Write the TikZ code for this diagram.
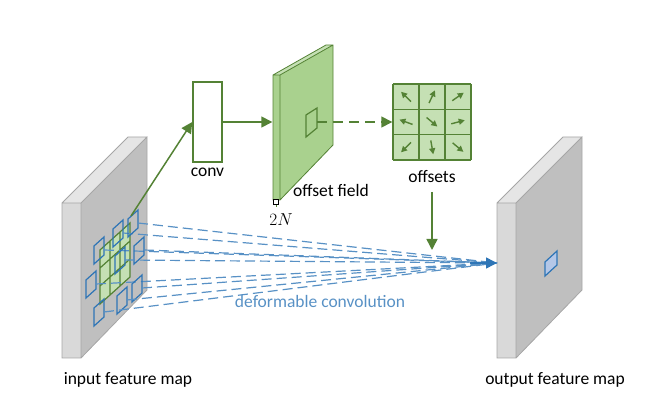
\documentclass[tikz,border=0pt]{standalone}
\usepackage{fontspec}
\setmainfont{Carlito}
\usetikzlibrary{arrows.meta,calc}
\definecolor{dgreen}{HTML}{548235}
\definecolor{lgreen}{HTML}{C5E0B4}
\definecolor{mgreen}{HTML}{A9D18E}
\definecolor{dblue}{HTML}{2E75B6}
\definecolor{lblue}{HTML}{B4C7E7}
\tikzset{
  gline/.style={draw=dgreen, line width=1.4pt},
  bline/.style={draw=dblue, line width=1.2pt},
  lbl/.style={font=\fontsize{17.5}{20}\selectfont, inner sep=1pt},
}
\newcommand{\fmap}[1]{% left x of the slab
  \fill[gray!20] (#1,203) -- (#1+19,203) -- (#1+85,137) -- (#1+66,137) -- cycle;
  \fill[gray!30] (#1,203) rectangle (#1+19,358);
  \fill[gray!50] (#1+19,203) -- (#1+85,137) -- (#1+85,290) -- (#1+19,358) -- cycle;
  \draw[gray!70, line width=0.8pt] (#1,203) -- (#1+19,203) -- (#1+85,137) -- (#1+85,290) -- (#1+19,358) -- (#1,358) -- cycle
    (#1+19,203) -- (#1+19,358) (#1,203) -- (#1+66,137) -- (#1+85,137);
}
\newcommand{\bsq}[2]{\draw[bline] (#1-5,#2-3) -- (#1+5,#2-12) -- (#1+5,#2+6) -- (#1-5,#2+15) -- cycle;}
\begin{document}
\begin{tikzpicture}[x=1pt, y=-1pt, >={Triangle[length=11pt,width=11pt]}]
\useasboundingbox (0,0) rectangle (670,417);
% feature maps
\fmap{62}
\fmap{497}
\fill[lblue] (545,262) -- (557,251) -- (557,265) -- (545,276) -- cycle;
\draw[bline] (545,262) -- (557,251) -- (557,265) -- (545,276) -- cycle;
% sampling grid on the input
\fill[lgreen] (100,250) -- (130,223) -- (130,277) -- (100,304) -- cycle;
\draw[gline, line width=1.2pt] (100,250) -- (130,223) -- (130,277) -- (100,304) -- cycle
  (110,241) -- (110,295) (120,232) -- (120,286)
  (100,268) -- (130,241) (100,286) -- (130,259);
\coordinate (tip) at (497,263);
\foreach \x/\y in {118/232, 133/222, 99/249, 139/249, 120/259, 91/283, 137/287, 122/299, 99/311}{
  \bsq{\x}{\y}
  \draw[draw=dblue!80!white, line width=1.2pt, dash pattern=on 10pt off 5pt] (\x+5,\y+1) -- (tip);
}
\draw[->, draw=dblue, fill=dblue, line width=1.5pt] (470,263) -- (tip);
% conv
\node[draw=dgreen, line width=1.5pt, minimum width=29pt, minimum height=80pt, inner sep=0pt] (conv) at (207.5,122) {};
\node[lbl, below=4pt] (convl) at (conv.south) {conv};
\coordinate (src) at (131,216);
\draw[->, dgreen, line width=1.5pt] (src) -- (conv.west);
% offset field
\fill[mgreen] (273,75) -- (280,75) -- (280,200) -- (273,200) -- cycle;
\fill[lgreen] (273,75) -- (280,75) -- (333,45) -- (326,45) -- cycle;
\fill[mgreen] (280,75) -- (333,45) -- (333,145) -- (280,200) -- cycle;
\draw[dgreen, line width=0.8pt] (273,75) -- (326,45) -- (333,45) -- (333,145) -- (280,200) -- (273,200) -- cycle
  (273,75) -- (280,75) -- (333,45) (280,75) -- (280,200);
\node[inner sep=0pt] (field) at (273,122) {};
\draw[->, dgreen, line width=1.5pt] (conv.east) -- (field);
\draw[dgreen, line width=1.2pt] (306,115) -- (317,108) -- (317,128) -- (306,137) -- cycle;
\coordinate (fsq) at (317,122);
\draw[dgreen, line width=1pt] (276,200) -- (276,207);
\draw[black, line width=0.7pt, fill=white] (273.5,199) rectangle (278.5,204);
\node[font=\fontsize{17}{19}\selectfont\rmfamily, inner sep=0pt] (twoN) at (281,220) {$2N$};
\node[lbl, anchor=west] (fieldl) at (292,190) {offset field};
% offsets
\fill[lgreen] (393,84) rectangle (471,160);
\foreach \i in {0,1,2,3}{
  \draw[dgreen, line width=1.5pt] (393+\i*26,84) -- (393+\i*26,160);
  \draw[dgreen, line width=1.5pt] (393,84+\i*25.33) -- (471,84+\i*25.33);
}
\node[inner sep=0pt] (offs) at (393,122) {};
\draw[->, dgreen, line width=1.5pt, dash pattern=on 10pt off 6pt] (fsq) -- (offs);
\foreach \c/\r/\a in {0/0/135, 1/0/65, 2/0/35, 0/1/160, 1/1/-40, 2/1/15, 0/2/-135, 1/2/-80, 2/2/-40}{
  \draw[-{Triangle[length=6pt,width=6pt]}, dgreen, line width=1.4pt]
    ($(406+\c*26,96.7+\r*25.33)+(\a:-7pt)$) -- ++(\a:14pt);
}
\node[lbl] (offsl) at (432,177) {offsets};
\coordinate (down) at (432,250);
\draw[->, dgreen, line width=1.5pt] (432,192) -- (down);
% labels
\node[lbl, text=dblue!80!white] (defl) at (320,301) {deformable convolution};
\node[lbl] (inl) at (128,380) {input feature map};
\node[lbl] (outl) at (555,380) {output feature map};
\end{tikzpicture}
\end{document}
